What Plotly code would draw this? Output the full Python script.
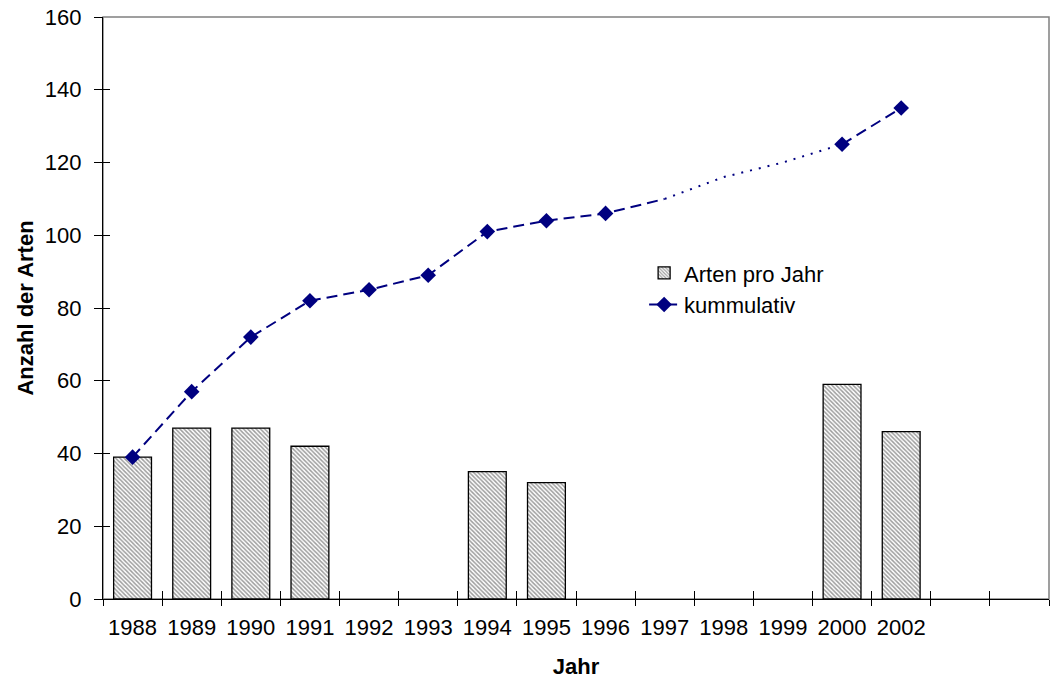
import plotly.graph_objects as go

# ---- data ----
categories = ["1988", "1989", "1990", "1991", "1992", "1993", "1994", "1995",
              "1996", "1997", "1998", "1999", "2000", "2002", "", ""]
arten_pro_jahr = [39, 47, 47, 42, None, None, 35, 32,
                  None, None, None, None, 59, 46, None, None]
kummulativ = [39, 57, 72, 82, 85, 89, 101, 104,
              106, 110, 116, 120, 125, 135, None, None]
unmarked_years = ["1997", "1998", "1999"]   # points drawn without marker
dotted_span = ("1997", "2000")               # segment drawn dotted
y_tick_values = [0, 20, 40, 60, 80, 100, 120, 140, 160]

NAVY = "#000080"
FONT = "Liberation Sans, Arial, sans-serif"

pos = list(range(len(categories)))
i0, i1 = categories.index(dotted_span[0]), categories.index(dotted_span[1])

dashed_y = [v if not (i0 < i < i1) else None for i, v in enumerate(kummulativ)]
dotted_y = [v if i0 <= i <= i1 else None for i, v in enumerate(kummulativ)]
marker_y = [v if categories[i] not in unmarked_years else None
            for i, v in enumerate(kummulativ)]

DASH = "11px,6px"

fig = go.Figure()

fig.add_trace(go.Bar(
    x=pos, y=arten_pro_jahr, name="Arten pro Jahr", width=0.64,
    marker=dict(color="white",
                line=dict(color="black", width=1.3),
                pattern=dict(shape="\\", fgcolor="#3c3c3c", bgcolor="white",
                             size=3, solidity=0.5)),
    hoverinfo="skip",
))

fig.add_trace(go.Scatter(
    x=pos, y=dashed_y, mode="lines", showlegend=False,
    line=dict(color=NAVY, width=2, dash=DASH), connectgaps=False,
    hoverinfo="skip",
))
fig.add_trace(go.Scatter(
    x=pos, y=dotted_y, mode="lines", showlegend=False,
    line=dict(color=NAVY, width=2, dash="2px,7px"), connectgaps=False,
    hoverinfo="skip",
))
fig.add_trace(go.Scatter(
    x=pos, y=marker_y, mode="markers", showlegend=False,
    marker=dict(symbol="diamond", size=12, color=NAVY),
    hoverinfo="skip",
))
# legend entry for the cumulative series
fig.add_trace(go.Scatter(
    x=[None], y=[None], mode="lines+markers", name="kummulativ",
    line=dict(color=NAVY, width=2, dash=DASH),
    marker=dict(symbol="diamond", size=12, color=NAVY),
))

# dummy traces to create overlay axes that draw the inside tick marks
fig.add_trace(go.Scatter(x=[None], y=[None], xaxis="x2", yaxis="y2",
                         showlegend=False, hoverinfo="skip"))
fig.add_trace(go.Scatter(x=[None], y=[None], xaxis="x3", yaxis="y2",
                         showlegend=False, hoverinfo="skip"))

xr = [-0.5, len(categories) - 0.5]
yr = [y_tick_values[0], y_tick_values[-1]]

fig.update_layout(
    width=1054, height=680,
    margin=dict(l=103, r=5, t=16, b=80),
    paper_bgcolor="white", plot_bgcolor="white",
    font=dict(family=FONT, size=22, color="black"),
    showlegend=True,
    legend=dict(x=0.572, y=0.596, xanchor="left", yanchor="top",
                bgcolor="rgba(0,0,0,0)", font=dict(size=22),
                tracegroupgap=0, itemwidth=30),
    xaxis=dict(range=xr, tickmode="array", tickvals=pos, ticktext=categories,
               ticks="outside", ticklen=8, tickcolor="rgba(0,0,0,0)",
               showline=True, linecolor="black", linewidth=1.2,
               showgrid=False, zeroline=False, fixedrange=True,
               title=dict(text="<b>Jahr</b>", standoff=20,
                          font=dict(size=22))),
    xaxis2=dict(overlaying="x", range=xr, tickmode="linear", tick0=-0.5,
                dtick=1, ticks="outside", ticklen=6, tickwidth=1.2,
                tickcolor="black", showticklabels=False, showline=False,
                showgrid=False, zeroline=False, side="bottom"),
    xaxis3=dict(overlaying="x", range=xr, tickmode="linear", tick0=-0.5,
                dtick=1, ticks="inside", ticklen=8, tickwidth=1.2,
                tickcolor="black", showticklabels=False, showline=False,
                showgrid=False, zeroline=False, side="bottom"),
    yaxis=dict(range=yr, tickmode="array", tickvals=y_tick_values,
               ticks="outside", ticklen=8, tickwidth=1.2, tickcolor="black",
               ticklabelstandoff=8,
               showline=True, linecolor="black", linewidth=1.2,
               showgrid=False, zeroline=False, fixedrange=True,
               title=dict(text="<b>Anzahl der Arten</b>", standoff=5,
                          font=dict(size=22))),
    yaxis2=dict(overlaying="y", range=yr, tickmode="array",
                tickvals=y_tick_values, ticks="inside", ticklen=7,
                tickwidth=1.2, tickcolor="black", showticklabels=False,
                showline=False, showgrid=False, zeroline=False, side="left"),
    shapes=[dict(type="rect", xref="paper", yref="paper", x0=0, x1=1,
                 y0=0, y1=1, line=dict(color="#808080", width=1.5),
                 layer="below")],
)

fig.write_html("out.html")
